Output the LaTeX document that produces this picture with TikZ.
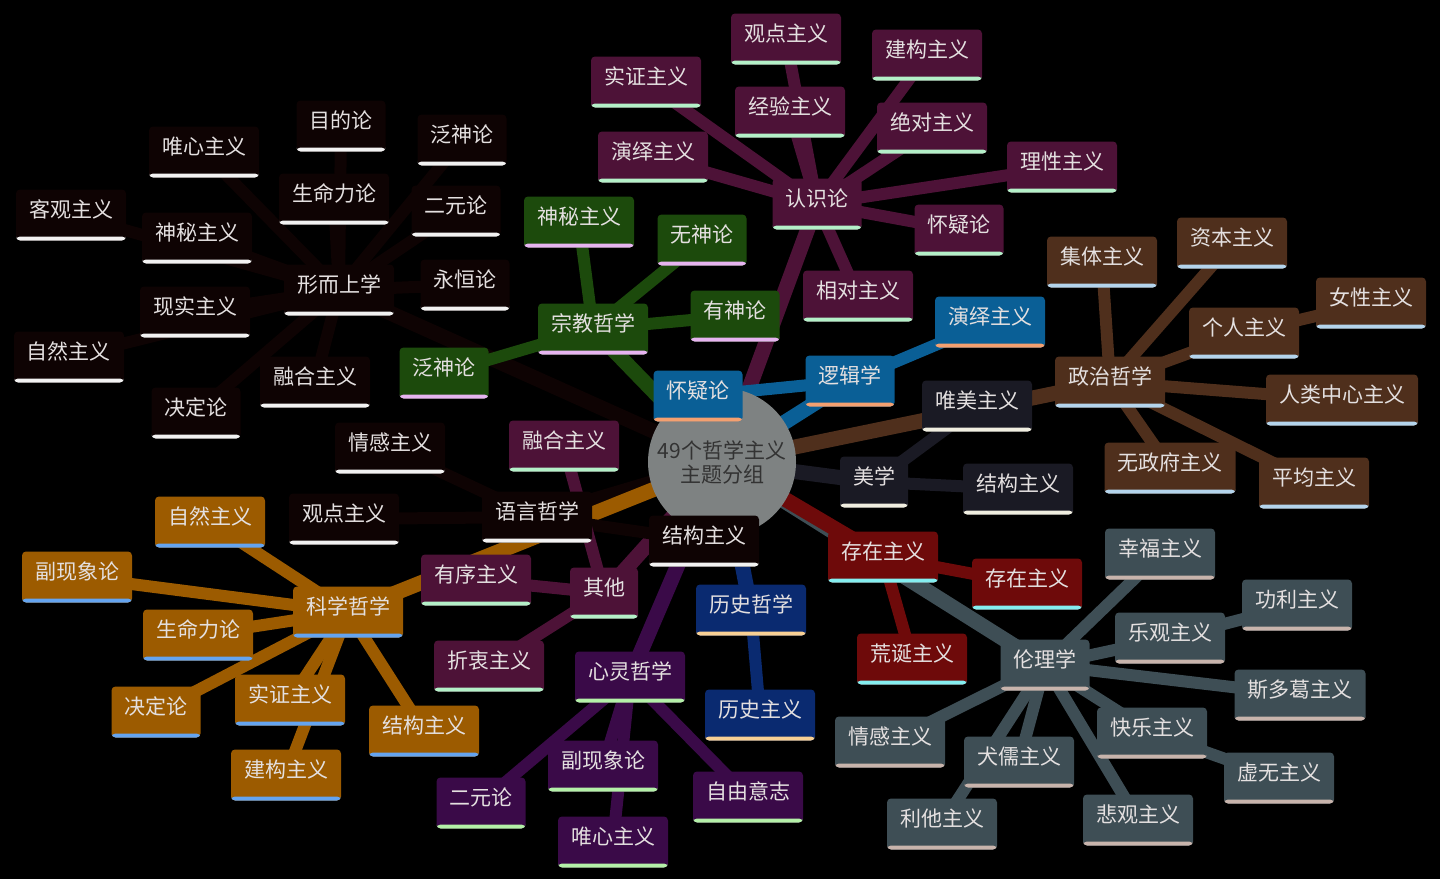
\documentclass[tikz,border=0pt]{standalone}
\usepackage{fontspec}
\newfontfamily\cjk{Noto Sans CJK SC}
\pgfdeclarelayer{bg}
\pgfsetlayers{bg,main}
% branch colours: fill / underline
\definecolor{rsF}{HTML}{4D1237}\definecolor{rsL}{HTML}{B4F0C8}
\definecolor{zjF}{HTML}{1C4A0C}\definecolor{zjL}{HTML}{E6B4F0}
\definecolor{xsF}{HTML}{0E0303}\definecolor{xsL}{HTML}{F2F2F2}
\definecolor{ljF}{HTML}{0A5F96}\definecolor{ljL}{HTML}{F4A070}
\definecolor{zzF}{HTML}{4F2F1C}\definecolor{zzL}{HTML}{B4D4EC}
\definecolor{mxF}{HTML}{1A1A24}\definecolor{mxL}{HTML}{F0EEE0}
\definecolor{czF}{HTML}{6E0A0A}\definecolor{czL}{HTML}{84EEF0}
\definecolor{llF}{HTML}{3E4E55}\definecolor{llL}{HTML}{C8B4AC}
\definecolor{lsF}{HTML}{0A2A70}\definecolor{lsL}{HTML}{F8D094}
\definecolor{xlF}{HTML}{3A0A48}\definecolor{xlL}{HTML}{B4F0A8}
\definecolor{kxF}{HTML}{9C5B00}\definecolor{kxL}{HTML}{64A4F0}
\definecolor{txt}{HTML}{E4E0E0}
\definecolor{hubF}{HTML}{7E8282}
\tikzset{
  box/.style 2 args={rounded corners=4pt, fill=#1, text=txt, minimum height=51pt,
    inner xsep=13pt, inner ysep=0pt, text height=13pt, text depth=9pt,
    path picture={\fill[#2] (path picture bounding box.south west) rectangle ([yshift=4pt]path picture bounding box.south east);}},
  rsbox/.style={box={rsF}{rsL}}, zjbox/.style={box={zjF}{zjL}},
  xsbox/.style={box={xsF}{xsL}}, ljbox/.style={box={ljF}{ljL}},
  zzbox/.style={box={zzF}{zzL}}, mxbox/.style={box={mxF}{mxL}},
  czbox/.style={box={czF}{czL}}, llbox/.style={box={llF}{llL}},
  lsbox/.style={box={lsF}{lsL}}, xlbox/.style={box={xlF}{xlL}},
  kxbox/.style={box={kxF}{kxL}},
  hub/.style={circle, fill=hubF, minimum size=148pt, inner sep=0pt, align=center, text=black!80},
  trunk/.style={line width=15pt},
  twig/.style={line width=12pt}
}
\begin{document}
\begin{tikzpicture}[x=1pt, y=-1pt, font=\cjk\fontsize{21}{24}\selectfont]
\begin{pgfonlayer}{bg}
\fill[black] (0,0) rectangle (1440,879);
\end{pgfonlayer}
\useasboundingbox (0,0) rectangle (1440,879);
\node[hub] (hub) at (722,462) {49个哲学主义\\主题分组};
% 认识论
\node[rsbox] (rs) at (817,204) {认识论};
\node[rsbox] (rs1) at (786,39) {观点主义};
\node[rsbox] (rs2) at (927,55) {建构主义};
\node[rsbox] (rs3) at (646,82) {实证主义};
\node[rsbox] (rs4) at (790,112) {经验主义};
\node[rsbox] (rs5) at (932,128) {绝对主义};
\node[rsbox] (rs6) at (653,157) {演绎主义};
\node[rsbox] (rs7) at (1062,167) {理性主义};
\node[rsbox] (rs8) at (959,230) {怀疑论};
\node[rsbox] (rs9) at (858,296) {相对主义};
% 宗教哲学
\node[zjbox] (zj) at (593,329) {宗教哲学};
\node[zjbox] (zj1) at (579,222) {神秘主义};
\node[zjbox] (zj2) at (702,240) {无神论};
\node[zjbox] (zj3) at (735,316) {有神论};
\node[zjbox] (zj4) at (444,373) {泛神论};
% 形而上学
\node[xsbox] (xs) at (339,290) {形而上学};
\node[xsbox] (xs1) at (204,152) {唯心主义};
\node[xsbox] (xs2) at (341,126) {目的论};
\node[xsbox] (xs3) at (462,140) {泛神论};
\node[xsbox] (xs4) at (334,199) {生命力论};
\node[xsbox] (xs5) at (456,211) {二元论};
\node[xsbox] (xs6) at (71,215) {客观主义};
\node[xsbox] (xs7) at (197,238) {神秘主义};
\node[xsbox] (xs8) at (465,285) {永恒论};
\node[xsbox] (xs9) at (195,312) {现实主义};
\node[xsbox] (xs10) at (69,357) {自然主义};
\node[xsbox] (xs11) at (315,382) {融合主义};
\node[xsbox] (xs12) at (196,413) {决定论};
% 逻辑学
\node[ljbox] (lj) at (850,381) {逻辑学};
\node[ljbox] (lj1) at (990,322) {演绎主义};
\node[ljbox] (lj2) at (698,396) {怀疑论};
% 政治哲学
\node[zzbox] (zz) at (1110,382) {政治哲学};
\node[zzbox] (zz1) at (1102,262) {集体主义};
\node[zzbox] (zz2) at (1232,243) {资本主义};
\node[zzbox] (zz3) at (1244,333) {个人主义};
\node[zzbox] (zz4) at (1371,303) {女性主义};
\node[zzbox] (zz5) at (1342,400) {人类中心主义};
\node[zzbox] (zz6) at (1170,468) {无政府主义};
\node[zzbox] (zz7) at (1314,483) {平均主义};
% 美学
\node[mxbox] (mx) at (874,482) {美学};
\node[mxbox] (mx1) at (977,406) {唯美主义};
\node[mxbox] (mx2) at (1018,489) {结构主义};
% 存在主义
\node[czbox] (cz) at (883,557) {存在主义};
\node[czbox] (cz1) at (1027,584) {存在主义};
\node[czbox] (cz2) at (912,659) {荒诞主义};
% 伦理学
\node[llbox] (ll) at (1045,665) {伦理学};
\node[llbox] (ll1) at (1160,554) {幸福主义};
\node[llbox] (ll2) at (1170,638) {乐观主义};
\node[llbox] (ll3) at (1297,605) {功利主义};
\node[llbox] (ll4) at (1300,695) {斯多葛主义};
\node[llbox] (ll5) at (1152,733) {快乐主义};
\node[llbox] (ll6) at (1279,778) {虚无主义};
\node[llbox] (ll7) at (1138,820) {悲观主义};
\node[llbox] (ll8) at (1019,762) {犬儒主义};
\node[llbox] (ll9) at (942,824) {利他主义};
\node[llbox] (ll10) at (890,742) {情感主义};
% 历史哲学
\node[lsbox] (ls) at (751,610) {历史哲学};
\node[lsbox] (ls1) at (760,715) {历史主义};
% 心灵哲学
\node[xlbox] (xl) at (630,677) {心灵哲学};
\node[xlbox] (xl1) at (481,803) {二元论};
\node[xlbox] (xl2) at (603,766) {副现象论};
\node[xlbox] (xl3) at (613,842) {唯心主义};
\node[xlbox] (xl4) at (748,797) {自由意志};
% 语言哲学
\node[xsbox] (yy) at (537,517) {语言哲学};
\node[xsbox] (yy1) at (390,448) {情感主义};
\node[xsbox] (yy2) at (344,519) {观点主义};
\node[xsbox] (yy3) at (704,541) {结构主义};
% 其他
\node[rsbox] (qt) at (604,593) {其他};
\node[rsbox] (qt1) at (564,446) {融合主义};
\node[rsbox] (qt2) at (476,580) {有序主义};
\node[rsbox] (qt3) at (489,666) {折衷主义};
% 科学哲学
\node[kxbox] (kx) at (348,612) {科学哲学};
\node[kxbox] (kx1) at (210,522) {自然主义};
\node[kxbox] (kx2) at (77,577) {副现象论};
\node[kxbox] (kx3) at (198,635) {生命力论};
\node[kxbox] (kx4) at (156,712) {决定论};
\node[kxbox] (kx5) at (290,700) {实证主义};
\node[kxbox] (kx6) at (286,775) {建构主义};
\node[kxbox] (kx7) at (424,731) {结构主义};
\begin{pgfonlayer}{bg}
% branches from the hub
\foreach \b/\c in {xs/xsF, yy/xsF, rs/rsF, zj/zjF, lj/ljF, zz/zzF, mx/mxF, ll/llF, cz/czF, ls/lsF, xl/xlF, qt/rsF, kx/kxF}
  \draw[trunk, color=\c] (hub.center) -- (\b.center);
% leaves
\foreach \i in {1,...,9} \draw[twig, rsF] (rs.center) -- (rs\i.center);
\foreach \i in {1,...,4} \draw[twig, zjF] (zj.center) -- (zj\i.center);
\foreach \i in {1,...,12} \draw[twig, xsF] (xs.center) -- (xs\i.center);
\foreach \i in {1,2} \draw[twig, ljF] (lj.center) -- (lj\i.center);
\foreach \i in {1,2,3,5,6,7} \draw[twig, zzF] (zz.center) -- (zz\i.center);
\draw[twig, zzF] (zz3.center) -- (zz4.center);
\foreach \i in {1,2} \draw[twig, mxF] (mx.center) -- (mx\i.center);
\foreach \i in {1,2} \draw[twig, czF] (cz.center) -- (cz\i.center);
\foreach \i in {1,2,4,5,7,8,9,10} \draw[twig, llF] (ll.center) -- (ll\i.center);
\draw[twig, llF] (ll2.center) -- (ll3.center);
\draw[twig, llF] (ll5.center) -- (ll6.center);
\draw[twig, lsF] (ls.center) -- (ls1.center);
\foreach \i in {1,...,4} \draw[twig, xlF] (xl.center) -- (xl\i.center);
\foreach \i in {1,2,3} \draw[twig, xsF] (yy.center) -- (yy\i.center);
\foreach \i in {1,2,3} \draw[twig, rsF] (qt.center) -- (qt\i.center);
\foreach \i in {1,...,7} \draw[twig, kxF] (kx.center) -- (kx\i.center);
\end{pgfonlayer}
\end{tikzpicture}
\end{document}
